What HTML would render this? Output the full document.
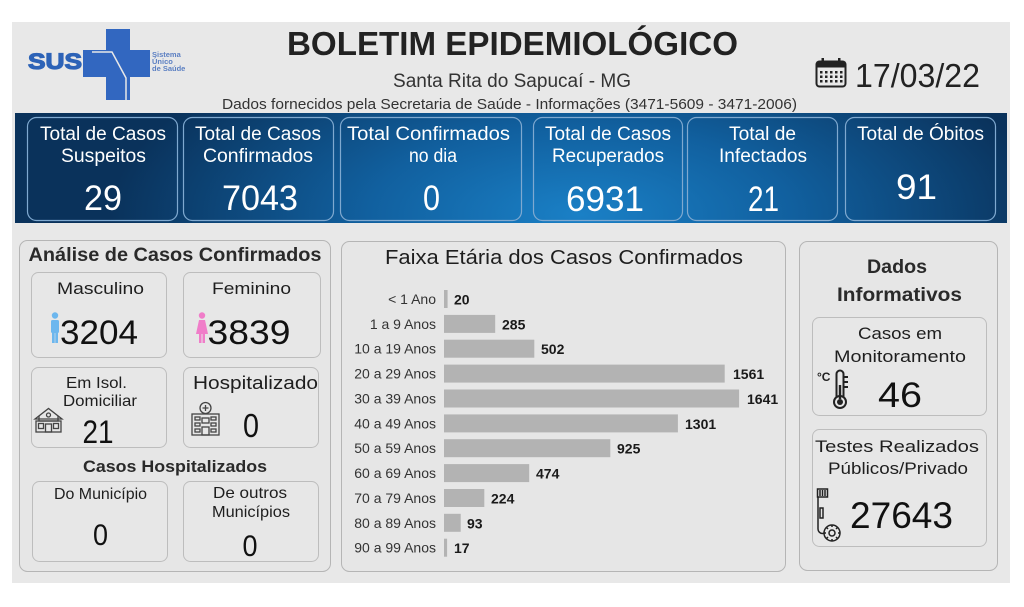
<!DOCTYPE html>
<html><head><meta charset="utf-8">
<style>
html,body{margin:0;padding:0;background:#fff;}
svg{display:block;}
text{font-family:"Liberation Sans",Arial,sans-serif;}
</style></head><body>
<svg width="1024" height="607" viewBox="0 0 1024 607" xmlns="http://www.w3.org/2000/svg">
<defs>
<radialGradient id="bg" cx="580" cy="215" r="470" gradientUnits="userSpaceOnUse" gradientTransform="translate(580 215) scale(1 0.42) translate(-580 -215)">
<stop offset="0" stop-color="#1a80c6"/>
<stop offset="0.45" stop-color="#11609f"/>
<stop offset="1" stop-color="#0a325b"/>
</radialGradient>
</defs>
<rect width="1024" height="607" fill="#fff"/>
<rect x="12" y="22" width="998" height="561" fill="#e8e8e8"/>

<!-- SUS logo -->
<text x="28" y="69" font-size="22" font-weight="bold" fill="#2d63b7" stroke="#2d63b7" stroke-width="1.2" textLength="54" lengthAdjust="spacingAndGlyphs">SUS</text>
<rect x="106" y="29" width="24" height="71" fill="#3267c0"/>
<rect x="83" y="50" width="67" height="27" fill="#3267c0"/>
<polyline points="92,52 112,52 126,78 126,100" fill="none" stroke="#e8e8e8" stroke-width="1.5"/>
<text x="152" y="57" font-size="7.5" font-weight="bold" fill="#5b7fc2">Sistema</text>
<text x="152" y="64" font-size="7.5" font-weight="bold" fill="#5b7fc2">Único</text>
<text x="152" y="71" font-size="7.5" font-weight="bold" fill="#5b7fc2">de Saúde</text>

<!-- Header text -->
<text x="512.5" y="55" font-size="33" font-weight="bold" fill="#222" text-anchor="middle" textLength="451" lengthAdjust="spacingAndGlyphs">BOLETIM EPIDEMIOLÓGICO</text>
<text x="512" y="87" font-size="19" fill="#333" text-anchor="middle" textLength="238" lengthAdjust="spacingAndGlyphs">Santa Rita do Sapucaí - MG</text>
<text x="509.5" y="109" font-size="15" fill="#333" text-anchor="middle" textLength="575" lengthAdjust="spacingAndGlyphs">Dados fornecidos pela Secretaria de Saúde - Informações (3471-5609 - 3471-2006)</text>

<!-- Calendar -->
<rect x="816.5" y="61.5" width="29" height="25" rx="3" fill="none" stroke="#222" stroke-width="2"/>
<rect x="816.5" y="61.5" width="29" height="6" fill="#222"/>
<rect x="821.5" y="58" width="2.5" height="7" fill="#222"/>
<rect x="838" y="58" width="2.5" height="7" fill="#222"/>
<g fill="#222">
<rect x="820" y="71" width="2.5" height="2.5"/><rect x="825" y="71" width="2.5" height="2.5"/><rect x="830" y="71" width="2.5" height="2.5"/><rect x="835" y="71" width="2.5" height="2.5"/><rect x="840" y="71" width="2.5" height="2.5"/>
<rect x="820" y="75.5" width="2.5" height="2.5"/><rect x="825" y="75.5" width="2.5" height="2.5"/><rect x="830" y="75.5" width="2.5" height="2.5"/><rect x="835" y="75.5" width="2.5" height="2.5"/><rect x="840" y="75.5" width="2.5" height="2.5"/>
<rect x="820" y="80" width="2.5" height="2.5"/><rect x="825" y="80" width="2.5" height="2.5"/><rect x="830" y="80" width="2.5" height="2.5"/><rect x="835" y="80" width="2.5" height="2.5"/><rect x="840" y="80" width="2.5" height="2.5"/>
</g>
<text x="855" y="87" font-size="33" fill="#222" textLength="125" lengthAdjust="spacingAndGlyphs">17/03/22</text>

<!-- Banner -->
<rect x="15" y="113" width="992" height="110" fill="url(#bg)"/>
<g fill="none" stroke="#7fa9d0" stroke-width="1.2">
<rect x="27.5" y="117.5" width="150" height="103" rx="9"/>
<rect x="183.5" y="117.5" width="150" height="103" rx="9"/>
<rect x="340.5" y="117.5" width="181" height="103" rx="9"/>
<rect x="533.5" y="117.5" width="149" height="103" rx="9"/>
<rect x="687.5" y="117.5" width="150" height="103" rx="9"/>
<rect x="845.5" y="117.5" width="150" height="103" rx="9"/>
</g>
<g fill="#fff" font-size="19" text-anchor="middle">
<text x="103" y="140" textLength="126" lengthAdjust="spacingAndGlyphs">Total de Casos</text>
<text x="103.5" y="162" textLength="85" lengthAdjust="spacingAndGlyphs">Suspeitos</text>
<text x="258" y="140" textLength="126" lengthAdjust="spacingAndGlyphs">Total de Casos</text>
<text x="258" y="162" textLength="110" lengthAdjust="spacingAndGlyphs">Confirmados</text>
<text x="428.5" y="140" textLength="163" lengthAdjust="spacingAndGlyphs">Total Confirmados</text>
<text x="433" y="162" textLength="48" lengthAdjust="spacingAndGlyphs">no dia</text>
<text x="608" y="140" textLength="126" lengthAdjust="spacingAndGlyphs">Total de Casos</text>
<text x="608" y="162" textLength="112" lengthAdjust="spacingAndGlyphs">Recuperados</text>
<text x="762.5" y="140" textLength="67" lengthAdjust="spacingAndGlyphs">Total de</text>
<text x="763" y="162" textLength="88" lengthAdjust="spacingAndGlyphs">Infectados</text>
<text x="920.5" y="140" textLength="127" lengthAdjust="spacingAndGlyphs">Total de Óbitos</text>
</g>
<g fill="#fff" font-size="35" text-anchor="middle">
<text x="103" y="210" textLength="38" lengthAdjust="spacingAndGlyphs">29</text>
<text x="260" y="210" textLength="76" lengthAdjust="spacingAndGlyphs">7043</text>
<text x="431.5" y="210" textLength="17" lengthAdjust="spacingAndGlyphs">0</text>
<text x="605" y="211" textLength="78" lengthAdjust="spacingAndGlyphs">6931</text>
<text x="763.5" y="211" textLength="31" lengthAdjust="spacingAndGlyphs">21</text>
<text x="916.5" y="199" textLength="41" lengthAdjust="spacingAndGlyphs">91</text>
</g>

<!-- Panels -->
<g fill="#e6e6e6" stroke="#b5b5b5" stroke-width="1">
<rect x="19.5" y="240.5" width="311" height="331" rx="8"/>
<rect x="341.5" y="241.5" width="444" height="330" rx="8"/>
<rect x="799.5" y="241.5" width="198" height="329" rx="8"/>
</g>
<g fill="#e7e7e7" stroke="#bdbdbd" stroke-width="1">
<rect x="31.5" y="272.5" width="135" height="85" rx="7"/>
<rect x="183.5" y="272.5" width="137" height="85" rx="7"/>
<rect x="31.5" y="367.5" width="135" height="80" rx="7"/>
<rect x="183.5" y="367.5" width="135" height="80" rx="7"/>
<rect x="32.5" y="481.5" width="135" height="80" rx="7"/>
<rect x="183.5" y="481.5" width="135" height="80" rx="7"/>
<rect x="812.5" y="317.5" width="174" height="98" rx="7"/>
<rect x="812.5" y="429.5" width="174" height="117" rx="7"/>
</g>

<!-- Left panel text -->
<text x="175" y="261" font-size="19" font-weight="bold" fill="#2a2a2a" text-anchor="middle" textLength="293" lengthAdjust="spacingAndGlyphs">Análise de Casos Confirmados</text>
<g fill="#1e1e1e" font-size="17" text-anchor="middle">
<text x="100.5" y="294" textLength="87" lengthAdjust="spacingAndGlyphs">Masculino</text>
<text x="251.5" y="294" textLength="79" lengthAdjust="spacingAndGlyphs">Feminino</text>
<text x="96.5" y="388" font-size="16" textLength="61" lengthAdjust="spacingAndGlyphs">Em Isol.</text>
<text x="100" y="406" font-size="16" textLength="74" lengthAdjust="spacingAndGlyphs">Domiciliar</text>
<text x="255.5" y="389" font-size="18" textLength="125" lengthAdjust="spacingAndGlyphs">Hospitalizado</text>
<text x="100.5" y="499" font-size="16" textLength="93" lengthAdjust="spacingAndGlyphs">Do Município</text>
<text x="250" y="498" font-size="16" textLength="74" lengthAdjust="spacingAndGlyphs">De outros</text>
<text x="251" y="517" font-size="16" textLength="78" lengthAdjust="spacingAndGlyphs">Municípios</text>
</g>
<text x="175" y="472" font-size="17" font-weight="bold" fill="#2a2a2a" text-anchor="middle" textLength="184" lengthAdjust="spacingAndGlyphs">Casos Hospitalizados</text>
<g fill="#111" font-size="34" text-anchor="middle">
<text x="99" y="344" textLength="78" lengthAdjust="spacingAndGlyphs">3204</text>
<text x="249" y="344" textLength="83" lengthAdjust="spacingAndGlyphs">3839</text>
<text x="98" y="443" font-size="32" textLength="31" lengthAdjust="spacingAndGlyphs">21</text>
<text x="251" y="437" font-size="33" textLength="16" lengthAdjust="spacingAndGlyphs">0</text>
<text x="100.5" y="545" font-size="30" textLength="15" lengthAdjust="spacingAndGlyphs">0</text>
<text x="250" y="556" font-size="30" textLength="15" lengthAdjust="spacingAndGlyphs">0</text>
</g>
<!-- man icon -->
<g fill="#6db7ee">
<circle cx="55" cy="315.5" r="3.2"/>
<rect x="51" y="320" width="8" height="13" rx="1.5"/>
<rect x="52" y="332" width="2.7" height="11"/>
<rect x="55.3" y="332" width="2.7" height="11"/>
</g>
<!-- woman icon -->
<g fill="#f07dc9">
<circle cx="202" cy="315.5" r="3.2"/>
<polygon points="199,320 205,320 208,334 196,334"/>
<rect x="199" y="333" width="2.5" height="10"/>
<rect x="202.5" y="333" width="2.5" height="10"/>
</g>
<!-- house icon -->
<g fill="none" stroke="#444" stroke-width="1.3">
<polygon points="35,419 48.5,408.5 62,419"/>
<polyline points="39,416 39,421 58,421 58,416"/>
<rect x="36" y="421" width="25" height="11"/>
<rect x="45.5" y="424" width="6" height="8"/>
<rect x="38.5" y="423.5" width="5" height="5"/>
<rect x="53.5" y="423.5" width="5" height="5"/>
<circle cx="48.5" cy="415" r="2"/>
</g>
<!-- hospital icon -->
<g fill="none" stroke="#444" stroke-width="1.3">
<circle cx="205.5" cy="408" r="5.5"/>
<path d="M205.5 405v6M202.5 408h6"/>
<rect x="192" y="414" width="27" height="21"/>
<rect x="195" y="417" width="5" height="3"/><rect x="211" y="417" width="5" height="3"/>
<rect x="195" y="423" width="5" height="3"/><rect x="211" y="423" width="5" height="3"/>
<rect x="195" y="429" width="5" height="3"/><rect x="211" y="429" width="5" height="3"/>
<rect x="202" y="427" width="7" height="8"/>
<rect x="202" y="418" width="7" height="5"/>
</g>

<!-- Chart -->
<text x="564" y="264" font-size="20" fill="#1e1e1e" text-anchor="middle" textLength="358" lengthAdjust="spacingAndGlyphs">Faixa Etária dos Casos Confirmados</text>
<g fill="#b3b3b3">
<rect x="444" y="290" width="3.6" height="18"/>
<rect x="444" y="314.9" width="51.2" height="18"/>
<rect x="444" y="339.7" width="90.3" height="18"/>
<rect x="444" y="364.6" width="280.7" height="18"/>
<rect x="444" y="389.5" width="295.1" height="18"/>
<rect x="444" y="414.4" width="233.9" height="18"/>
<rect x="444" y="439.2" width="166.3" height="18"/>
<rect x="444" y="464.1" width="85.2" height="18"/>
<rect x="444" y="489" width="40.3" height="18"/>
<rect x="444" y="513.8" width="16.7" height="18"/>
<rect x="444" y="538.7" width="3.1" height="18"/>
</g>
<g fill="#333" font-size="14" text-anchor="end">
<text x="436" y="304">&lt; 1 Ano</text>
<text x="436" y="328.9">1 a 9 Anos</text>
<text x="436" y="353.7">10 a 19 Anos</text>
<text x="436" y="378.6">20 a 29 Anos</text>
<text x="436" y="403.5">30 a 39 Anos</text>
<text x="436" y="428.4">40 a 49 Anos</text>
<text x="436" y="453.2">50 a 59 Anos</text>
<text x="436" y="478.1">60 a 69 Anos</text>
<text x="436" y="503">70 a 79 Anos</text>
<text x="436" y="527.8">80 a 89 Anos</text>
<text x="436" y="552.7">90 a 99 Anos</text>
</g>
<g fill="#1a1a1a" font-size="14" font-weight="bold">
<text x="454" y="304.5">20</text>
<text x="502" y="329.4">285</text>
<text x="541" y="354.2">502</text>
<text x="733" y="379.1">1561</text>
<text x="747" y="404">1641</text>
<text x="685" y="428.9">1301</text>
<text x="617" y="453.7">925</text>
<text x="536" y="478.6">474</text>
<text x="491" y="503.5">224</text>
<text x="467" y="528.3">93</text>
<text x="454" y="553.2">17</text>
</g>

<!-- Right panel -->
<text x="897" y="273" font-size="19" font-weight="bold" fill="#2a2a2a" text-anchor="middle" textLength="60" lengthAdjust="spacingAndGlyphs">Dados</text>
<text x="899.5" y="301" font-size="19" font-weight="bold" fill="#2a2a2a" text-anchor="middle" textLength="125" lengthAdjust="spacingAndGlyphs">Informativos</text>
<g fill="#1e1e1e" font-size="17" text-anchor="middle">
<text x="900" y="339" textLength="84" lengthAdjust="spacingAndGlyphs">Casos em</text>
<text x="900" y="362" textLength="132" lengthAdjust="spacingAndGlyphs">Monitoramento</text>
<text x="897" y="452" textLength="164" lengthAdjust="spacingAndGlyphs">Testes Realizados</text>
<text x="898" y="474" textLength="140" lengthAdjust="spacingAndGlyphs">Públicos/Privado</text>
</g>
<text x="900" y="407" font-size="35" fill="#111" text-anchor="middle" textLength="44" lengthAdjust="spacingAndGlyphs">46</text>
<text x="901.5" y="528" font-size="37" fill="#111" text-anchor="middle" textLength="103" lengthAdjust="spacingAndGlyphs">27643</text>
<!-- thermometer -->
<text x="817" y="381" font-size="12" font-weight="bold" fill="#222">°C</text>
<g fill="none" stroke="#222" stroke-width="2">
<path d="M836.5 397V374a3.5 3.5 0 0 1 7 0V397"/>
<circle cx="840" cy="402" r="6"/>
<path d="M844 377h4M844 382h4M844 387h4"/>
</g>
<rect x="838.8" y="385" width="2.4" height="14" fill="#222"/>
<circle cx="840" cy="402" r="3" fill="#222"/>
<!-- test tube -->
<g fill="none" stroke="#222" stroke-width="1.5">
<rect x="817.5" y="489" width="10" height="8"/>
<path d="M818 497v32a4.5 4.5 0 0 0 9 0"/>
<path d="M820 490v6M822.5 490v6M825 490v6"/>
<rect x="820" y="508" width="3" height="10"/>
<circle cx="832" cy="533" r="8" fill="#e7e7e7"/>
<circle cx="832" cy="533" r="3"/>
<path d="M832 527v-2M832 539v2M826 533h-2M838 533h2M828 529l-1.5-1.5M836 537l1.5 1.5M836 529l1.5-1.5M828 537l-1.5 1.5"/>
</g>
</svg>
</body></html>
